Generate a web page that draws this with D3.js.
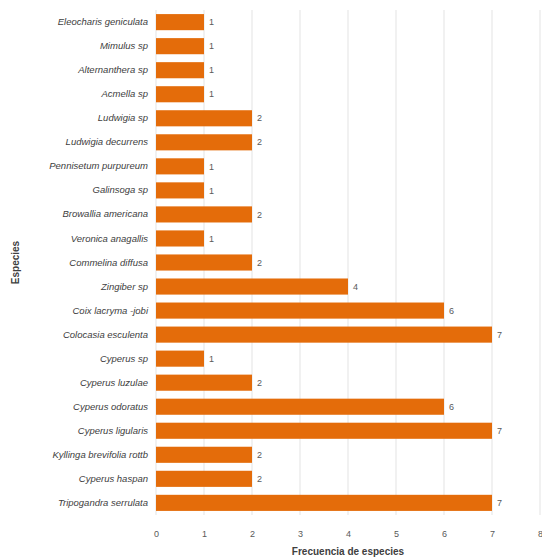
<!DOCTYPE html>
<html><head><meta charset="utf-8">
<script src="https://cdn.jsdelivr.net/npm/d3@7"></script>
<style>body{margin:0;background:#fff}svg{display:block}</style>
</head><body>
<script>
const categories = ["Eleocharis geniculata","Mimulus sp","Alternanthera sp","Acmella sp","Ludwigia sp","Ludwigia decurrens","Pennisetum purpureum","Galinsoga sp","Browallia americana","Veronica anagallis","Commelina diffusa","Zingiber sp","Coix lacryma -jobi","Colocasia esculenta","Cyperus sp","Cyperus luzulae","Cyperus odoratus","Cyperus ligularis","Kyllinga brevifolia rottb","Cyperus haspan","Tripogandra serrulata"];
const values = [1,1,1,1,2,2,1,1,2,1,2,4,6,7,1,2,6,7,2,2,7];
const xTicks = [0,1,2,3,4,5,6,7,8];
const xTitle = "Frecuencia de especies";
const yTitle = "Especies";

const W=542,H=558;
const m={l:156,r:4,t:10,b:43};
const svg=d3.select("body").append("svg").attr("width",W).attr("height",H);
const x=d3.scaleLinear().domain([0,8]).range([m.l,540]);
const y=d3.scaleBand().domain(categories).range([m.t,H-m.b]).paddingInner(0.33).paddingOuter(0.17);

svg.append("g").selectAll("line").data(xTicks).join("line")
  .attr("x1",d=>x(d)).attr("x2",d=>x(d)).attr("y1",m.t).attr("y2",H-m.b)
  .attr("stroke","#e3e3e3").attr("stroke-width",1);

svg.append("g").selectAll("rect").data(values).join("rect")
  .attr("x",x(0)).attr("y",(d,i)=>y(categories[i]))
  .attr("width",d=>x(d)-x(0)).attr("height",y.bandwidth())
  .attr("fill","#e46c0a");

svg.append("g").selectAll("text").data(values).join("text")
  .attr("x",d=>x(d)+5).attr("y",(d,i)=>y(categories[i])+y.bandwidth()/2)
  .attr("dy","0.35em").attr("font-family","Liberation Sans, sans-serif").attr("font-size",9)
  .attr("fill","#595959").text(d=>d);

const ya=d3.axisLeft(y).tickSize(0).tickPadding(8);
const gy=svg.append("g").attr("transform",`translate(${m.l},0)`).call(ya);
gy.select(".domain").remove();
gy.selectAll("text").attr("font-family","Liberation Sans, sans-serif").attr("font-size",9.5)
  .attr("font-style","italic").attr("fill","#404040");

const xa=d3.axisBottom(x).tickValues(xTicks).tickSize(0).tickPadding(14);
const gx=svg.append("g").attr("transform",`translate(0,${H-m.b+2})`).call(xa);
gx.select(".domain").remove();
gx.selectAll("text").attr("font-family","Liberation Sans, sans-serif").attr("font-size",9).attr("fill","#595959");

svg.append("text").attr("x",(x(0)+x(8))/2).attr("y",H-3).attr("text-anchor","middle")
  .attr("font-family","Liberation Sans, sans-serif").attr("font-size",10).attr("font-weight","bold")
  .attr("fill","#404040").text(xTitle);
svg.append("text").attr("transform",`translate(19,${(m.t+H-m.b)/2}) rotate(-90)`).attr("text-anchor","middle")
  .attr("font-family","Liberation Sans, sans-serif").attr("font-size",10).attr("font-weight","bold")
  .attr("fill","#404040").text(yTitle);
</script>
</body></html>
